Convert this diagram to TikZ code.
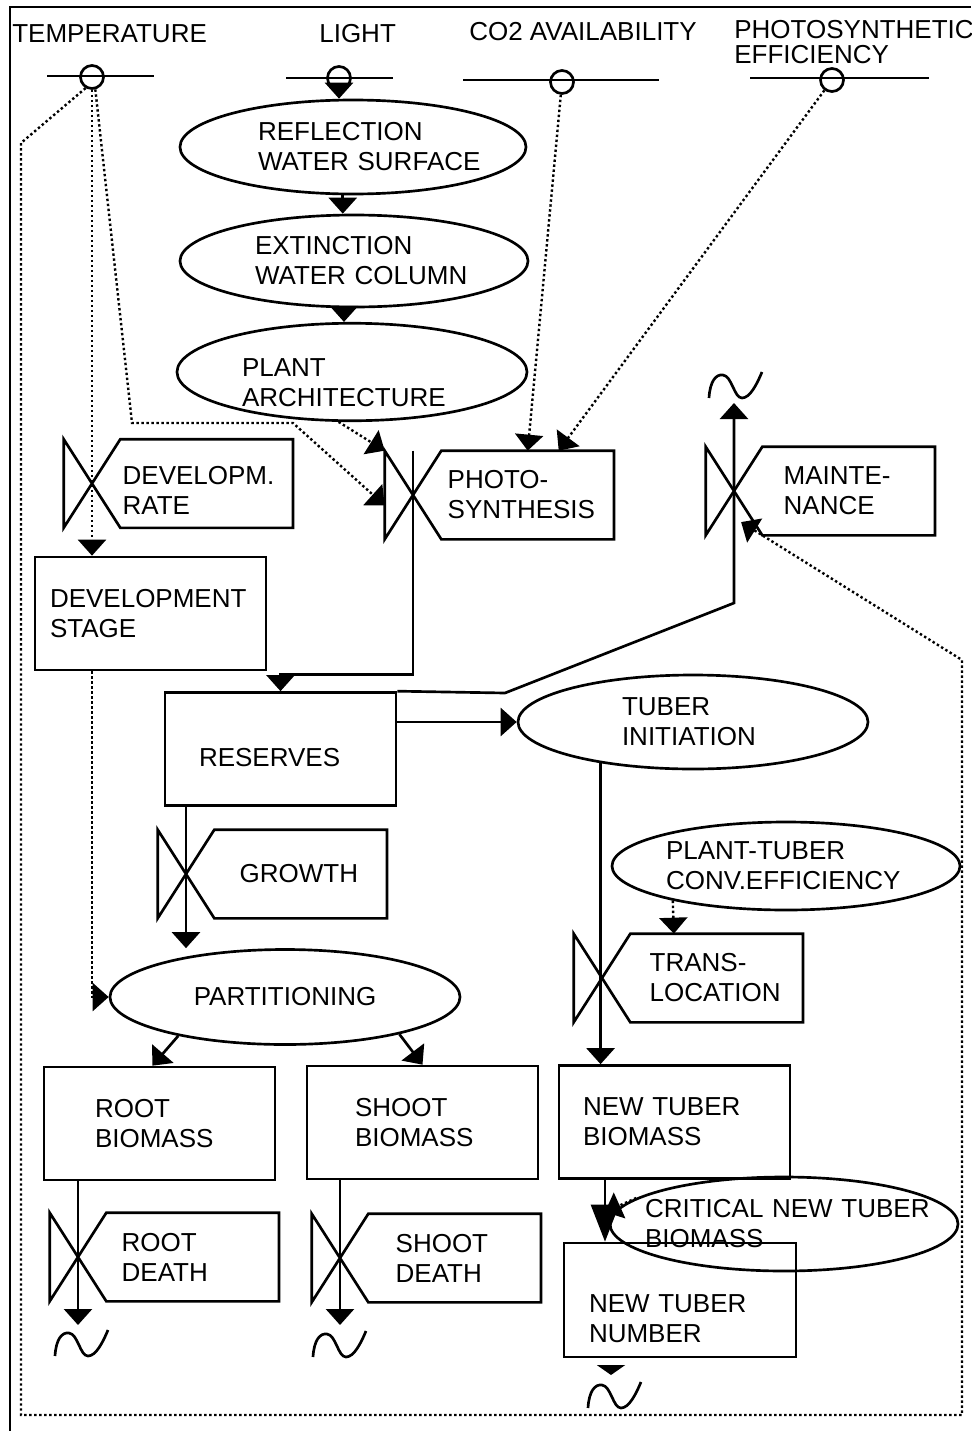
\documentclass[tikz,border=0pt]{standalone}
\usepackage{fontspec}
\setmainfont{Liberation Sans}
\usetikzlibrary{shapes.geometric,arrows.meta}
\hyphenpenalty=10000
\exhyphenpenalty=10000

\tikzset{every picture/.style={line width=2pt}}
\tikzset{
  txt/.style={inner sep=0pt, font=\fontsize{19.5}{22.5}\selectfont},
  stock/.style={txt, draw, rectangle, align=left, minimum width=173.25pt, minimum height=84.75pt},
  aux/.style={txt, draw, ellipse, align=left, minimum width=262.5pt, minimum height=70.5pt},
  tag/.style={txt, rectangle, align=left, text width=97.5pt, minimum width=127.5pt, minimum height=64.5pt},
  bowtie/.style={inner sep=0pt, minimum width=40.5pt, minimum height=64.5pt},
  src/.style={draw, circle, inner sep=0pt, minimum size=17.25pt},
  flow/.style={-{Triangle[length=12pt,width=21pt]}},
  info/.style={line width=1.8pt, dash pattern=on 1.8pt off 1.95pt, -{Triangle[length=12pt,width=21pt]}},
  sink/.pic={\draw (0,0) .. controls (1,17) and (7,24) .. (14,23) .. controls (23,22) and (25,0) .. (33,0) .. controls (41,0) and (48,14) .. (53,26);}
}

\begin{document}
\begin{tikzpicture}[x=0.75pt,y=0.75pt,yscale=-1,xscale=1]
\useasboundingbox (0,0) rectangle (971,1431);

%Straight Lines: frame
\draw (10,1431) -- (10,7) -- (971,7);

% Text Node
\node[txt, anchor=base west] (temp-lbl) at (11,42) {TEMPERATURE};
% Text Node
\node[txt, anchor=base west] (light-lbl) at (318,42) {LIGHT};
% Text Node
\node[txt, anchor=base west] (co2-lbl) at (468,40) {CO2 AVAILABILITY};
% Text Node
\node[txt, anchor=north west, align=left, font=\fontsize{19.5}{18.75}\selectfont] (pe-lbl) at (733,19) {PHOTOSYNTHETIC\\EFFICIENCY};

%Shape: Source lines
\draw (47,76) -- (154,76);
\node[src] (temp) at (92,77) {};
\draw (286,78) -- (393,78);
\node[src] (light) at (339,78) {};
\draw (463,80) -- (659,80);
\node[src] (co2) at (562,82) {};
\draw (750,78) -- (929,78);
\node[src] (pe) at (832,80) {};

%Shape: Ellipse
\node[aux, minimum width=259.5pt, text width=142.5pt] (refl) at (353,147) {REFLECTION\\\mbox{WATER SURFACE}};
%Shape: Ellipse
\node[aux, minimum width=261pt, minimum height=69pt, text width=148.5pt] (ext) at (354,261) {EXTINCTION\\\mbox{WATER COLUMN}};
%Shape: Ellipse
\node[aux, text width=165pt] (arch) at (352,372) {\rule{0pt}{29pt}PLANT\\ARCHITECTURE};
%Shape: Ellipse
\node[aux, text width=106.5pt] (tinit) at (693,722) {TUBER\\INITIATION};
%Shape: Ellipse
\node[aux, minimum width=261pt, minimum height=66pt, text width=180pt] (ptconv) at (786,866) {PLANT-TUBER\\CONV.EFFICIENCY};
%Shape: Ellipse
\node[aux, minimum height=71.25pt] (part) at (285,997) {PARTITIONING};
%Shape: Ellipse
\node[aux, minimum width=261pt, text width=208.5pt, inner xsep=-13.5pt] (crit) at (784,1224) {\mbox{CRITICAL NEW TUBER}\\BIOMASS};

%Shape: Rectangle
\node[stock, text width=150.75pt] (devstage) at (150.5,613.5) {DEVELOPMENT\\STAGE};
%Shape: Rectangle
\node[stock, text width=122.25pt] (reserves) at (280.5,749) {\rule{0pt}{26pt}RESERVES};
%Shape: Rectangle
\node[stock, text width=96.75pt] (rootb) at (159.5,1123.5) {ROOT\\BIOMASS};
%Shape: Rectangle
\node[stock, text width=101.25pt] (shootb) at (422.5,1122.5) {SHOOT\\BIOMASS};
%Shape: Rectangle
\node[stock, text width=137.25pt] (ntbio) at (674.5,1122) {NEW TUBER\\BIOMASS};
%Shape: Rectangle
\node[stock, minimum width=174pt, minimum height=85.5pt, text width=136.5pt] (ntnum) at (680,1300) {\rule{0pt}{41pt}NEW TUBER\\NUMBER};

%Shape: Valve
\node[bowtie] (devrate-v) at (92,483.5) {};
\node[tag, anchor=west, text width=126pt] (devrate) at (devrate-v.east) {\rule{0pt}{24.5pt}DEVELOPM.\\RATE};
\draw (devrate.south west) -- (devrate-v.north west) -- (devrate-v.south west) -- (devrate.north west) -- (devrate.north east) -- (devrate.south east) -- cycle;
%Shape: Valve
\node[bowtie] (photo-v) at (413,495) {};
\node[tag, anchor=west, text width=120pt] (photo) at (photo-v.east) {PHOTO-\\SYNTHESIS};
\draw (photo.south west) -- (photo-v.north west) -- (photo-v.south west) -- (photo.north west) -- (photo.north east) -- (photo.south east) -- cycle;
%Shape: Valve
\node[bowtie] (maint-v) at (734,491) {};
\node[tag, anchor=west] (maint) at (maint-v.east) {MAINTE-\\NANCE};
\draw (maint.south west) -- (maint-v.north west) -- (maint-v.south west) -- (maint.north west) -- (maint.north east) -- (maint.south east) -- cycle;
%Shape: Valve
\node[bowtie] (growth-v) at (186,874) {};
\node[tag, anchor=west, text width=91.5pt] (growth) at (growth-v.east) {GROWTH};
\draw (growth.south west) -- (growth-v.north west) -- (growth-v.south west) -- (growth.north west) -- (growth.north east) -- (growth.south east) -- cycle;
%Shape: Valve
\node[bowtie] (transl-v) at (602,978) {};
\node[tag, anchor=west, text width=100.5pt] (transl) at (transl-v.east) {TRANS-\\LOCATION};
\draw (transl.south west) -- (transl-v.north west) -- (transl-v.south west) -- (transl.north west) -- (transl.north east) -- (transl.south east) -- cycle;
%Shape: Valve
\node[bowtie] (rdeath-v) at (78,1257) {};
\node[tag, anchor=west, text width=106.5pt] (rdeath) at (rdeath-v.east) {ROOT\\DEATH};
\draw (rdeath.south west) -- (rdeath-v.north west) -- (rdeath-v.south west) -- (rdeath.north west) -- (rdeath.north east) -- (rdeath.south east) -- cycle;
%Shape: Valve
\node[bowtie] (sdeath-v) at (340,1258) {};
\node[tag, anchor=west, text width=88.5pt] (sdeath) at (sdeath-v.east) {SHOOT\\DEATH};
\draw (sdeath.south west) -- (sdeath-v.north west) -- (sdeath-v.south west) -- (sdeath.north west) -- (sdeath.north east) -- (sdeath.south east) -- cycle;

%Sinks
\coordinate (maint-out) at (734,403);
\coordinate (rdeath-out) at (78,1325);
\coordinate (sdeath-out) at (340,1325);
\coordinate (ntnum-out) at (611,1375);
\coordinate (ntflow) at (605,1212);
\pic (maint-sink) at (709,398) {sink};
\pic (rdeath-sink) at (55,1356) {sink};
\pic (sdeath-sink) at (313,1357) {sink};
\pic (ntnum-sink) at (588,1408) {sink};

%Straight Lines: light
\draw[flow] (light.south) -- (light.south |- refl.north);
\draw[flow] (refl.-102) -- (refl.-102 |- ext.north);
\draw[flow] (ext.-102) -- (ext.-102 |- arch.north);

%Dotted Lines: information
\draw[info] (co2) -- (photo.north);
\draw[info] (pe) -- (photo.55);
\draw[info] (arch.-105) -- (photo-v.north west);
\draw[info] (temp.-75) -- (132,423) -- (293,423) -- (photo-v.200);
\draw[info] (temp.south) -- (temp |- devstage.north);
\draw[info] (temp |- devstage.south) |- (part.west);
\draw[info, shorten >=-18.75pt] (temp.-120) -- (21,143) -- (21,1415) -- (962,1415) -- (962,660) -- (maint-v.south east);
\draw[info] (ptconv.197) -- (transl.134);
\draw[info] (crit.170) -- (ntflow);

%Straight Lines: flows
\draw[flow] (photo-v.north) -- ++(0,224) -| (reserves.north);
\draw[flow] (reserves.east |- tinit.west) -- (tinit.west);
\draw[flow] (reserves.north east) -- (505,693) -- (734,603) -- (maint-out);
\draw[flow] (reserves.south -| growth-v) -- (part.north -| growth-v);
\draw[flow] (part.200) -- (rootb.97);
\draw[flow] (part.-18) -- (shootb.north);
\draw[flow] (rootb.south -| rdeath-v) -- (rdeath-out);
\draw[flow] (shootb.south -| sdeath-v) -- (sdeath-out);
\draw[flow] (tinit.204) -- (tinit.204 |- ntbio.north);
\draw[-{Triangle[length=27.75pt,width=21pt]}] (ntflow |- ntbio.south) -- (ntflow |- ntnum.north);
\draw[-{Triangle[length=7.5pt,width=21pt]}, shorten <=6pt] (ntnum-out |- ntnum.south) -- (ntnum-out);

\end{tikzpicture}
\end{document}
